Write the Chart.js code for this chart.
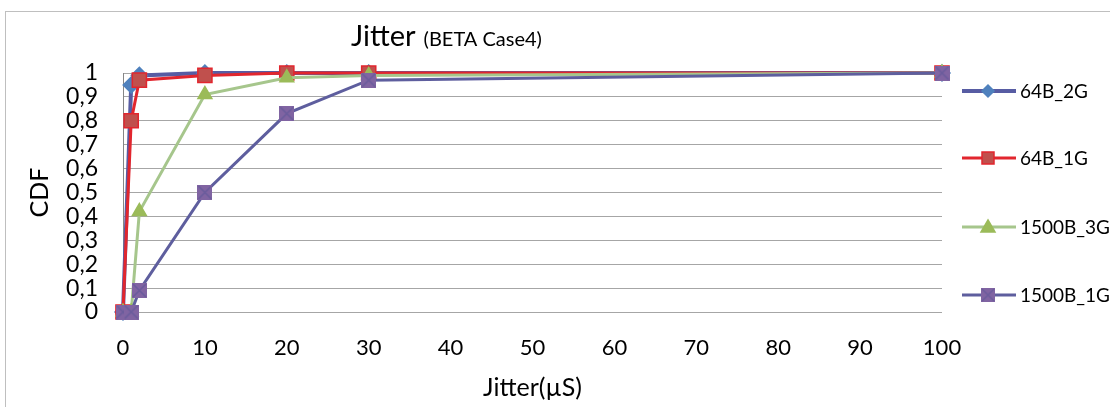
<!DOCTYPE html>
<html>
<head>
<meta charset="utf-8">
<script src="https://cdn.jsdelivr.net/npm/chart.js@4/dist/chart.umd.min.js"></script>
<style>
  html, body { margin: 0; padding: 0; background: #ffffff; }
  #wrap { width: 1110px; height: 407px; }
</style>
</head>
<body>
<div id="wrap"><canvas id="c" width="1110" height="407"></canvas></div>
<script>
// Jitter sample points (µs) and the cumulative share of packets per traffic profile
const jitterUs    = [0, 1, 2, 10, 20, 30, 100];
const cdf64B_2G   = [0, 0.95, 0.99, 1, 1, 1, 1];
const cdf64B_1G   = [0, 0.80, 0.97, 0.99, 1, 1, 1];
const cdf1500B_3G = [0, 0, 0.42, 0.91, 0.98, 0.99, 1];
const cdf1500B_1G = [0, 0, 0.09, 0.50, 0.83, 0.97, 1];

const seriesNames = ['64B_2G', '64B_1G', '1500B_3G', '1500B_1G'];
const xTickValues = [0, 10, 20, 30, 40, 50, 60, 70, 80, 90, 100];
const yTickValues = [0, 0.1, 0.2, 0.3, 0.4, 0.5, 0.6, 0.7, 0.8, 0.9, 1];

const FONT = 'Lato, "Open Sans", "DejaVu Sans", sans-serif';

// square marker with a diagonal cross, used for the 1500B_1G profile
function crossSquare(size) {
  const cv = document.createElement('canvas');
  cv.width = size; cv.height = size;
  const g = cv.getContext('2d');
  g.fillStyle = '#8064A2';
  g.fillRect(0, 0, size, size);
  g.strokeStyle = '#6A5C9C';
  g.lineWidth = 1.5;
  g.beginPath();
  g.moveTo(1, 1); g.lineTo(size - 1, size - 1);
  g.moveTo(size - 1, 1); g.lineTo(1, size - 1);
  g.stroke();
  return cv;
}

const styles = [
  { line: '#575CA3', width: 4, marker: 'rectRot', radius: 8, fill: '#4F81BD', edge: '#4F81BD' },
  { line: '#E2262E', width: 3, marker: 'rect', radius: 10, fill: '#C0504D', edge: '#E2262E' },
  { line: '#A6C68C', width: 3, marker: 'triangle', radius: 8, fill: '#9BBB59', edge: '#9BBB59' },
  { line: '#5E5E9E', width: 3, marker: crossSquare(15), radius: 8, fill: '#8064A2', edge: '#8064A2' }
];

const seriesValues = [cdf64B_2G, cdf64B_1G, cdf1500B_3G, cdf1500B_1G];

const datasets = seriesValues.map((vals, i) => ({
  label: seriesNames[i],
  data: jitterUs.map((x, k) => ({ x: x, y: vals[k] })),
  borderColor: styles[i].line,
  borderWidth: styles[i].width,
  backgroundColor: styles[i].fill,
  pointStyle: styles[i].marker,
  pointRadius: styles[i].radius,
  pointBackgroundColor: styles[i].fill,
  pointBorderColor: styles[i].edge,
  pointBorderWidth: 1.5,
  tension: 0,
  clip: false,
  order: seriesValues.length - 1 - i
}));

function fmtCdf(v) {
  if (Math.abs(v) < 1e-9) return '0';
  if (Math.abs(v - 1) < 1e-9) return '1';
  return v.toFixed(1).replace('.', ',');
}

// outer frame, chart title and the line+marker legend on the right
const decorations = {
  id: 'decorations',
  beforeDraw(chart) {
    const ctx = chart.ctx;
    ctx.save();
    ctx.fillStyle = '#ffffff';
    ctx.fillRect(0, 0, chart.width, chart.height);
    ctx.strokeStyle = '#BFBFBF';
    ctx.lineWidth = 1;
    ctx.strokeRect(5.5, 11.5, chart.width + 20, chart.height + 20);
    ctx.restore();
  },
  afterDraw(chart) {
    const ctx = chart.ctx;
    ctx.save();
    // title
    ctx.fillStyle = '#000000';
    ctx.textBaseline = 'alphabetic';
    ctx.textAlign = 'left';
    ctx.font = '29px ' + FONT;
    const main = 'Jitter';
    const tx = 351, ty = 46;
    ctx.fillText(main, tx, ty);
    const w = ctx.measureText(main).width;
    ctx.font = '20px ' + FONT;
    ctx.fillText('(BETA Case4)', tx + w + 8, ty);

    // legend
    const rows = [91, 158, 227, 295];
    const x0 = 962, x1 = 1016, xm = 988;
    chart.data.datasets.forEach((ds, i) => {
      const y = rows[i];
      const st = styles[i];
      ctx.strokeStyle = st.line;
      ctx.lineWidth = st.width;
      ctx.beginPath();
      ctx.moveTo(x0, y); ctx.lineTo(x1, y);
      ctx.stroke();
      ctx.fillStyle = st.fill;
      ctx.strokeStyle = st.edge;
      ctx.lineWidth = 1.5;
      if (i === 0) {
        ctx.beginPath();
        ctx.moveTo(xm - 6, y); ctx.lineTo(xm, y - 6); ctx.lineTo(xm + 6, y); ctx.lineTo(xm, y + 6);
        ctx.closePath(); ctx.fill(); ctx.stroke();
      } else if (i === 1) {
        ctx.fillRect(xm - 6, y - 6, 12, 12);
        ctx.strokeRect(xm - 6, y - 6, 12, 12);
      } else if (i === 2) {
        ctx.beginPath();
        ctx.moveTo(xm, y - 7); ctx.lineTo(xm + 7, y + 5); ctx.lineTo(xm - 7, y + 5);
        ctx.closePath(); ctx.fill(); ctx.stroke();
      } else {
        ctx.drawImage(st.marker, xm - 7, y - 7, 14, 14);
      }
      ctx.fillStyle = '#000000';
      ctx.font = '19px ' + FONT;
      ctx.textBaseline = 'middle';
      ctx.fillText(ds.label, 1020, y + 1);
    });
    ctx.restore();
  }
};

new Chart(document.getElementById('c'), {
  type: 'line',
  data: { datasets: datasets },
  plugins: [decorations],
  options: {
    responsive: false,
    animation: false,
    events: [],
    layout: { padding: { left: 0, top: 73, right: 168, bottom: 0 } },
    plugins: {
      legend: { display: false },
      title: { display: false },
      tooltip: { enabled: false }
    },
    scales: {
      x: {
        type: 'linear',
        min: 0,
        max: 100,
        afterBuildTicks: s => { s.ticks = xTickValues.map(v => ({ value: v })); },
        afterFit: s => { s.height = 95; },
        grid: { display: false, drawTicks: false },
        border: { display: false },
        ticks: {
          padding: 23,
          color: '#000000',
          maxRotation: 0,
          autoSkip: false,
          font: { family: FONT, size: 22 }
        },
        title: {
          display: true,
          text: 'Jitter(µS)',
          color: '#000000',
          font: { family: FONT, size: 25 },
          padding: { top: 0, bottom: 4 }
        }
      },
      y: {
        type: 'linear',
        min: 0,
        max: 1,
        afterBuildTicks: s => { s.ticks = yTickValues.map(v => ({ value: v })); },
        afterFit: s => { s.width = 123; },
        grid: { color: '#A6A6A6', lineWidth: 1, drawTicks: false },
        border: { display: true, color: '#868686', width: 1 },
        ticks: {
          padding: 25,
          color: '#000000',
          autoSkip: false,
          font: { family: FONT, size: 23 },
          callback: v => fmtCdf(v)
        },
        title: {
          display: true,
          text: 'CDF',
          color: '#000000',
          font: { family: FONT, size: 25 },
          padding: { top: 25, bottom: 0 }
        }
      }
    }
  }
});
</script>
</body>
</html>
